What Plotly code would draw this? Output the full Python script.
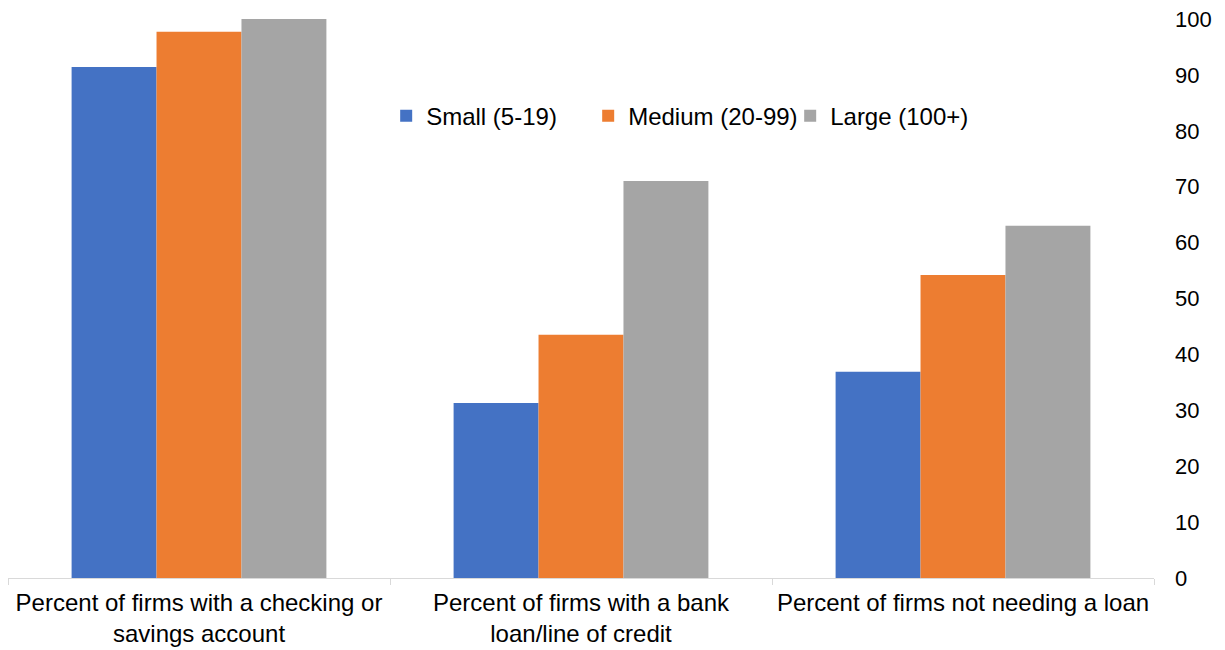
import plotly.graph_objects as go

categories = [
    "Percent of firms with a checking or<br>savings account",
    "Percent of firms with a bank<br>loan/line of credit",
    "Percent of firms not needing a loan",
]
series_names = ["Small (5-19)", "Medium (20-99)", "Large (100+)"]
small = [91.4, 31.3, 36.9]
medium = [97.7, 43.5, 54.2]
large = [100.0, 71.0, 63.0]
colors = ["#4472C4", "#ED7D31", "#A5A5A5"]
y_ticks = list(range(0, 101, 10))

fig = go.Figure()
for name, vals, col in zip(series_names, [small, medium, large], colors):
    fig.add_trace(go.Bar(x=categories, y=vals, name=name, marker_color=col,
                         marker_line_width=0))

fig.update_layout(
    width=1225, height=650,
    margin=dict(l=8, r=71, t=19, b=72),
    paper_bgcolor="white", plot_bgcolor="white",
    font=dict(family="Liberation Sans, Arial, sans-serif", size=24, color="#000000"),
    barmode="group", bargap=0.333, bargroupgap=0,
    legend=dict(orientation="h", x=0.33, y=0.826, xanchor="left", yanchor="middle",
                font=dict(size=24), bgcolor="rgba(0,0,0,0)", itemwidth=30,
                entrywidth=157, tracegroupgap=0),
    showlegend=True,
)
fig.update_xaxes(
    showline=True, linecolor="#D9D9D9", linewidth=1.3,
    ticks="outside", tickson="boundaries", ticklen=6, tickcolor="#D9D9D9",
    showgrid=False, tickfont=dict(size=24), ticklabelstandoff=3,
    automargin=False,
)
fig.update_yaxes(
    side="right", range=[0, 100], tickvals=y_ticks,
    showgrid=False, showline=False, zeroline=False,
    tickfont=dict(size=22), ticklabelstandoff=20, automargin=False,
)

fig.write_html("out.html")
